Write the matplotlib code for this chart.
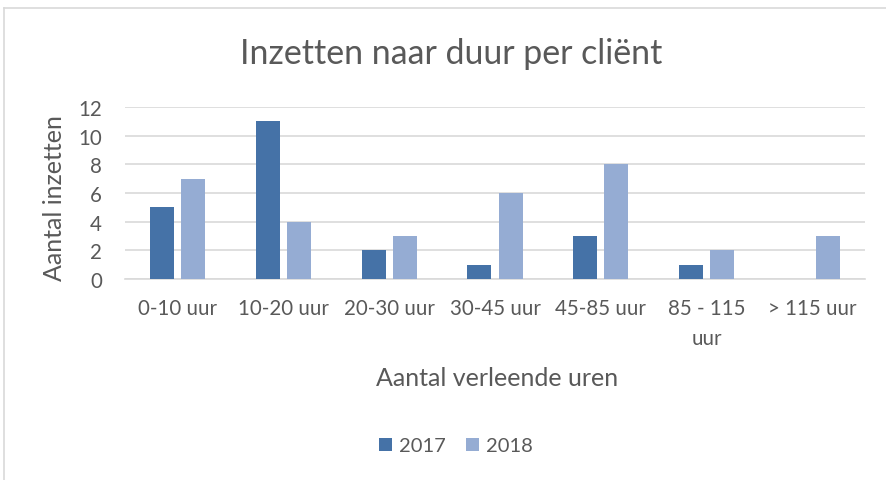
import matplotlib.pyplot as plt
import numpy as np
from matplotlib.lines import Line2D

# Data
categories = ['0-10 uur', '10-20 uur', '20-30 uur', '30-45 uur', '45-85 uur', '85 - 115\nuur', '> 115 uur']
values_2017 = [5, 11, 2, 1, 3, 1, 0]
values_2018 = [7, 4, 3, 6, 8, 2, 3]
years = ['2017', '2018']

plt.rcParams['font.family'] = ['Lato', 'DejaVu Sans']
text_color = '#595959'
grid_color = '#D9D9D9'
c2017 = '#4572A7'
c2018 = '#95ACD3'

fig = plt.figure(figsize=(8.87, 4.81), dpi=100)
ax = fig.add_axes([125 / 887, 1 - 280 / 481, 740 / 887, 172 / 481])

x = np.arange(len(categories))
w = 0.227
off = 0.147
ax.bar(x - off, values_2017, w, color=c2017, label=years[0], zorder=3)
ax.bar(x + off, values_2018, w, color=c2018, label=years[1], zorder=3)

ax.set_xlim(-0.5, len(categories) - 0.5)
ax.set_ylim(0, 12)
ax.set_yticks(range(0, 13, 2))
ax.set_xticks(x)
ax.set_xticklabels(categories, linespacing=1.6)
ax.yaxis.grid(True, color=grid_color, linewidth=1.2, zorder=0)
for s in ['top', 'right', 'left']:
    ax.spines[s].set_visible(False)
ax.spines['bottom'].set_color(grid_color)
ax.spines['bottom'].set_linewidth(1.2)
ax.tick_params(axis='both', length=0, labelsize=14.8, colors=text_color)
ax.tick_params(axis='x', pad=14)
ax.tick_params(axis='y', pad=16.5)

fig.text(451 / 887, 1 - 54 / 481, 'Inzetten naar duur per cliënt', ha='center', va='center',
         fontsize=24.4, color=text_color)
fig.text(55 / 887, 1 - 198 / 481, 'Aantal inzetten', rotation=90, ha='center', va='center',
         fontsize=18, color=text_color)
fig.text(497 / 887, 1 - 379 / 481, 'Aantal verleende uren', ha='center', va='center',
         fontsize=18, color=text_color)

leg = fig.legend(loc='center', bbox_to_anchor=(456 / 887, 1 - 447 / 481), ncol=2, frameon=False,
                 fontsize=14.5, handlelength=0.65, handleheight=0.65, handletextpad=0.36,
                 columnspacing=1.0, labelcolor=text_color)

# chart frame (left and top edges)
fig.add_artist(Line2D([4.5 / 887, 4.5 / 887], [0, 1 - 9 / 481], transform=fig.transFigure,
                      color=grid_color, linewidth=1.2))
fig.add_artist(Line2D([4.5 / 887, 1], [1 - 9 / 481, 1 - 9 / 481], transform=fig.transFigure,
                      color=grid_color, linewidth=1.2))

fig.savefig('out.png', dpi=100)
